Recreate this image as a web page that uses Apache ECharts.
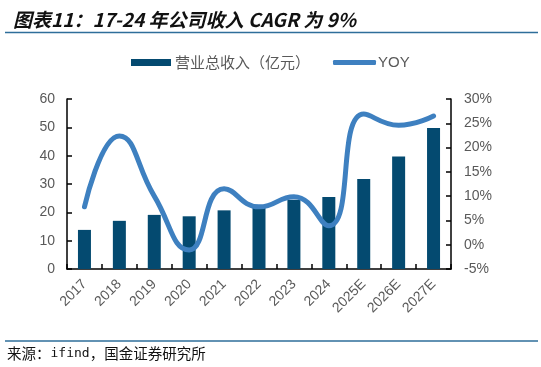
<!DOCTYPE html>
<html>
<head>
<meta charset="utf-8">
<script src="https://cdn.jsdelivr.net/npm/echarts@6/dist/echarts.min.js"></script>
<style>html,body{margin:0;padding:0;background:#fff;}#c{width:541px;height:367px;}</style>
</head>
<body>
<div id="c"></div>
<script>
const categories = ['2017','2018','2019','2020','2021','2022','2023','2024','2025E','2026E','2027E'];
const revenue = [13.8, 17.0, 19.1, 18.6, 20.7, 22.0, 24.4, 25.4, 31.8, 39.7, 49.8];
const yoy = [7.8, 22.4, 10.0, -1.1, 11.5, 7.8, 9.9, 3.9, 26.9, 24.6, 26.5];
const leftTicks = { min: 0, max: 60, interval: 10 };
const rightTicks = { min: -5, max: 30, interval: 5 };

const chart = echarts.init(document.getElementById('c'), null, { renderer: 'canvas' });
const CJK = '"Noto Sans CJK SC", "Liberation Sans", sans-serif';
const AX = 'Arial, "Liberation Sans", sans-serif';
const axisLine = { show: true, lineStyle: { color: '#000', width: 1.5 } };
const axisTick = { show: true, inside: true, length: 5, lineStyle: { color: '#000', width: 1.5 } };

chart.setOption({
  animation: false,
  title: {
    text: '图表11：17-24 年公司收入 CAGR 为 9%',
    left: 8, top: 5,
    textStyle: { fontFamily: CJK, fontSize: 19, fontWeight: 'bold', fontStyle: 'italic', color: '#111' }
  },
  graphic: [
    { type: 'line', shape: { x1: 5, y1: 32.5, x2: 538, y2: 32.5 }, style: { stroke: '#2e6e9a', lineWidth: 1.3 } },
    { type: 'line', shape: { x1: 5, y1: 341, x2: 538, y2: 341 }, style: { stroke: '#2e6e9a', lineWidth: 1.3 } },
    { type: 'text', left: 7, top: 346,
      style: { text: '{a|来源：}{b|ifind}{a|，国金证券研究所}',
        rich: { a: { fontFamily: '"Noto Sans CJK SC"', fontSize: 14.5, fill: '#111', color: '#111' },
                b: { fontFamily: '"DejaVu Sans Mono"', fontSize: 13, fill: '#111', color: '#111' } } } }
  ],
  legend: [
    { data: [{ name: '营业总收入（亿元）', icon: 'rect' }], left: 131, top: 55, padding: 0, itemWidth: 40, itemHeight: 7, itemGap: 4,
      textStyle: { fontFamily: CJK, fontSize: 15, color: '#595959', padding: [0, 0, 0, -1] } },
    { data: [{ name: 'YOY', icon: 'roundRect' }], left: 333, top: 55, padding: 0, itemWidth: 43, itemHeight: 5, itemGap: 4,
      textStyle: { fontFamily: AX, fontSize: 15, color: '#595959', padding: [0, 0, 0, -3] } }
  ],
  grid: { left: 67, right: 90, top: 99, bottom: 98, containLabel: false },
  xAxis: {
    type: 'category', data: categories, boundaryGap: true,
    axisLine: axisLine, axisTick: axisTick,
    axisLabel: { rotate: 45, fontFamily: AX, fontSize: 14, color: '#595959', margin: 13, interval: 0 }
  },
  yAxis: [
    { type: 'value', min: leftTicks.min, max: leftTicks.max, interval: leftTicks.interval, position: 'left',
      axisLine: axisLine, axisTick: axisTick, splitLine: { show: false },
      axisLabel: { fontFamily: AX, fontSize: 14, color: '#595959', margin: 12 } },
    { type: 'value', min: rightTicks.min, max: rightTicks.max, interval: rightTicks.interval, position: 'right',
      axisLine: axisLine, axisTick: axisTick, splitLine: { show: false },
      axisLabel: { fontFamily: AX, fontSize: 14, color: '#595959', margin: 13, formatter: '{value}%' } }
  ],
  series: [
    { name: '营业总收入（亿元）', type: 'bar', data: revenue, yAxisIndex: 0, barWidth: 13,
      itemStyle: { color: '#044a70' } },
    { name: 'YOY', type: 'line', data: yoy, yAxisIndex: 1, smooth: 0.5, showSymbol: false, symbol: 'none',
      lineStyle: { color: '#3e80c0', width: 5, cap: 'round' }, itemStyle: { color: '#3e80c0' } }
  ]
});
</script>
</body>
</html>
